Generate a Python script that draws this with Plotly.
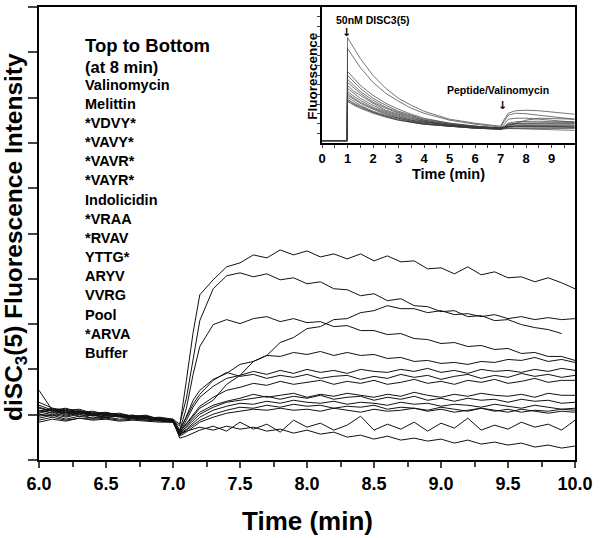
import plotly.graph_objects as go

# ---------------- main chart data (time in min, fluorescence in a.u.) ----------------
time_min = [6.0, 6.1, 6.2, 6.3, 6.4, 6.5, 6.6, 6.7, 6.8, 6.9, 7.0, 7.05, 7.1, 7.15,
            7.2, 7.3, 7.4, 7.5, 7.6, 7.7, 7.8, 7.9, 8.0, 8.1, 8.2, 8.3, 8.4, 8.5,
            8.6, 8.7, 8.8, 8.9, 9.0, 9.1, 9.2, 9.3, 9.4, 9.5, 9.6, 9.7, 9.8, 9.9, 10.0]

valinomycin = [52, 49, 50, 47, 48, 45, 46, 44, 43, 42, 40, 34, 80, 128, 166, 181, 194, 198, 206, 203, 211, 206, 210, 204, 207, 202, 207, 200, 205, 199, 200, 192, 193, 187, 194, 186, 189, 183, 184, 179, 183, 178, 172]
melittin = [48, 51, 46, 49, 45, 47, 44, 45, 42, 43, 41, 36, 62, 102, 140, 172, 185, 188, 184, 187, 181, 183, 177, 179, 172, 171, 165, 167, 160, 162, 155, 154, 149, 150, 144, 145, 140, 141, 136, 133, 131, 127, None]
vdvy = [55, 50, 52, 48, 49, 46, 47, 44, 45, 41, 40, 30, 52, 86, 114, 136, 141, 137, 142, 144, 139, 142, 138, 139, 134, 135, 130, 130, 126, 127, 122, 121, 117, 118, 114, 115, 111, 112, 107, 108, 104, 104, 100]
vavy = [47, 50, 45, 48, 44, 46, 45, 43, 44, 40, 39, 28, 36, 44, 52, 60, 76, 85, 99, 105, 118, 123, 132, 134, 141, 142, 148, 150, 155, 152, 152, 148, 150, 146, 147, 144, 146, 142, 144, 141, 143, 141, 142]
vavr = [50, 47, 49, 46, 47, 44, 45, 43, 42, 42, 40, 29, 44, 60, 70, 81, 87, 96, 99, 105, 104, 108, 106, 109, 105, 108, 105, 106, 102, 103, 99, 100, 97, 98, 96, 99, 98, 101, 100, 103, 99, 101, 98]
vayr = [45, 48, 44, 47, 45, 43, 44, 42, 43, 41, 40, 27, 40, 53, 63, 74, 82, 85, 89, 86, 90, 87, 91, 88, 90, 87, 91, 89, 88, 91, 89, 92, 88, 90, 87, 91, 89, 90, 88, 91, 89, 92, 90]
indolicidin = [58, 52, 50, 51, 47, 48, 45, 44, 44, 41, 41, 30, 43, 56, 66, 80, 88, 84, 86, 82, 85, 83, 86, 82, 84, 85, 81, 84, 82, 86, 83, 85, 81, 84, 86, 82, 85, 83, 87, 84, 86, 83, 85]
vraa = [44, 46, 43, 46, 42, 45, 43, 42, 41, 40, 39, 28, 37, 46, 54, 63, 70, 73, 77, 75, 79, 76, 78, 80, 76, 79, 77, 80, 76, 78, 81, 77, 79, 76, 80, 78, 81, 77, 79, 82, 78, 80, 80]
rvav = [53, 49, 51, 48, 46, 47, 44, 45, 43, 42, 40, 26, 34, 42, 48, 55, 59, 62, 66, 63, 65, 67, 63, 66, 64, 67, 65, 63, 66, 64, 68, 65, 63, 66, 64, 67, 65, 64, 66, 63, 67, 65, 65]
yttg = [49, 52, 47, 50, 46, 47, 45, 43, 44, 41, 40, 27, 33, 40, 46, 53, 58, 60, 62, 64, 61, 64, 62, 65, 61, 63, 64, 60, 63, 61, 64, 60, 62, 59, 62, 60, 61, 58, 61, 59, 60, 57, 58]
aryv = [46, 44, 48, 44, 45, 43, 44, 42, 42, 40, 39, 26, 31, 37, 43, 50, 54, 57, 56, 59, 57, 60, 58, 57, 59, 56, 58, 57, 55, 58, 56, 57, 54, 56, 55, 53, 56, 54, 52, 55, 53, 51, 52]
vvrg = [42, 45, 41, 44, 42, 43, 41, 42, 40, 40, 38, 25, 30, 35, 40, 46, 50, 53, 52, 55, 53, 56, 54, 55, 52, 54, 53, 55, 51, 53, 52, 50, 53, 51, 49, 52, 50, 48, 51, 49, 47, 49, 48]
pool = [40, 43, 40, 42, 41, 42, 40, 41, 40, 39, 38, 24, 28, 33, 38, 43, 47, 49, 51, 50, 52, 50, 51, 49, 52, 50, 48, 51, 49, 50, 52, 49, 51, 48, 50, 52, 49, 51, 48, 50, 49, 51, 50]
arva = [70, 50, 48, 49, 45, 46, 44, 43, 42, 41, 39, 22, 24, 27, 30, 34, 29, 38, 31, 36, 28, 40, 33, 37, 30, 35, 44, 30, 36, 31, 38, 29, 37, 32, 42, 30, 35, 31, 38, 33, 36, 30, 40]
buffer = [38, 41, 39, 42, 40, 41, 39, 40, 39, 38, 38, 26, 29, 31, 33, 30, 34, 31, 33, 29, 31, 27, 30, 26, 28, 23, 25, 21, 24, 20, 22, 19, 21, 17, 20, 16, 18, 15, 17, 13, 15, 12, 14]

legend_labels = ["Valinomycin", "Melittin", "*VDVY*", "*VAVY*", "*VAVR*", "*VAYR*",
                 "Indolicidin", "*VRAA", "*RVAV", "YTTG*", "ARYV", "VVRG", "Pool",
                 "*ARVA", "Buffer"]
main_series = [valinomycin, melittin, vdvy, vavy, vavr, vayr, indolicidin, vraa,
               rvav, yttg, aryv, vvrg, pool, arva, buffer]

x_ticks = [6.0, 6.5, 7.0, 7.5, 8.0, 8.5, 9.0, 9.5, 10.0]
x_tick_labels = ["6.0", "6.5", "7.0", "7.5", "8.0", "8.5", "9.0", "9.5", "10.0"]

# ---------------- inset data (full run, 0-10 min) ----------------
inset_time = [0, 0.99, 1.0, 1.25, 1.5, 2, 2.5, 3, 3.5, 4, 5, 6, 7,
              7.15, 7.3, 7.6, 8, 8.5, 9, 9.5, 9.9]
inset_series = [
    [2.5, 2.5, 106, 95, 85, 68, 55, 45, 38, 32, 24, 20, 17, 24, 30, 32.5, 33, 32.5, 31, 30, 29],
    [2.5, 2.5, 95, 85, 76, 61, 50, 42, 35, 30, 23, 19, 16, 22, 28, 30, 29.5, 28, 26.5, 25, 24],
    [2.5, 2.5, 72, 65, 58, 48, 40, 34, 29, 25, 20, 17, 15, 19, 24, 25, 25, 24, 23, 22, 21],
    [2.5, 2.5, 68, 61, 55, 45, 38, 32, 28, 24, 20, 17, 15, 16, 17, 20, 23, 25, 24.5, 24, 24],
    [2.5, 2.5, 64, 58, 52, 43, 36, 31, 27, 23, 19, 17, 15, 17, 20, 21.5, 22, 22, 21.5, 21.5, 21.5],
    [2.5, 2.5, 61, 55, 50, 41, 35, 30, 26, 23, 19, 16, 15, 16, 19, 20, 20.5, 20.5, 20.5, 20.5, 20.5],
    [2.5, 2.5, 58, 52, 48, 40, 33, 29, 25, 22, 18, 16, 15, 16, 19, 19.5, 19.5, 19.5, 19.5, 19.5, 19.5],
    [2.5, 2.5, 55, 50, 45, 38, 32, 28, 24, 22, 18, 16, 15, 16, 18, 19, 19, 19, 19, 19, 19],
    [2.5, 2.5, 52, 47, 43, 36, 31, 27, 23, 21, 18, 16, 15, 15.5, 17, 17.5, 17.5, 17.5, 17.5, 17.5, 17.5],
    [2.5, 2.5, 50, 45, 41, 35, 30, 26, 23, 21, 18, 16, 14, 15.5, 16.5, 17.5, 17.5, 17.5, 17, 17, 17],
    [2.5, 2.5, 48, 44, 40, 34, 29, 25, 22, 20, 17, 16, 14, 15.5, 16.5, 17, 17, 17, 16.5, 16.5, 16],
    [2.5, 2.5, 46, 42, 38, 32, 28, 25, 22, 20, 17, 15, 14, 15.3, 16, 16.5, 16.5, 16.5, 16, 16, 15.8],
    [2.5, 2.5, 44, 40, 37, 31, 27, 24, 21, 19, 17, 15, 14, 15.2, 16, 16.2, 16.3, 16.3, 16.2, 16.2, 16],
    [2.5, 2.5, 43, 39, 36, 31, 27, 23, 21, 19, 17, 15, 14, 14.5, 14.8, 14.8, 14.8, 14.7, 14.7, 14.6, 14.6],
    [2.5, 2.5, 42, 38, 35, 30, 26, 23, 21, 19, 17, 15, 14, 14.5, 14.6, 14.5, 14.2, 13.8, 13.6, 13.2, 12.8],
]
inset_ticks = [0, 1, 2, 3, 4, 5, 6, 7, 8, 9]

for s in main_series:
    assert len(s) == len(time_min)
for s in inset_series:
    assert len(s) == len(inset_time)

FONT = "Liberation Sans, Arial, Helvetica, sans-serif"

fig = go.Figure()
for name, ys in zip(legend_labels, main_series):
    fig.add_trace(go.Scatter(x=time_min, y=ys, mode="lines", name=name,
                             line=dict(color="#111111", width=1), showlegend=False))
for ys in inset_series:
    fig.add_trace(go.Scatter(x=inset_time, y=ys, mode="lines", xaxis="x2", yaxis="y2",
                             line=dict(color="#3a3a3a", width=0.7), showlegend=False))

# geometry helpers (paper coords of plot area: x 39..575 px, y 5..460 px)
PL, PR, PT, PB = 39, 575, 5, 460
def px(xp):
    return (xp - PL) / (PR - PL)
def py(yp):
    return (PB - yp) / (PB - PT)

ymax = 455
fig.update_layout(
    width=600, height=538,
    margin=dict(l=PL, r=600 - PR, t=PT, b=538 - PB),
    paper_bgcolor="white", plot_bgcolor="white",
    font=dict(family=FONT, color="black"),
    xaxis=dict(range=[6, 10], tickvals=x_ticks,
               ticktext=["<b>%s</b>" % t for t in x_tick_labels],
               tickfont=dict(size=18), ticks="outside", ticklen=6, tickwidth=1.5,
               minor=dict(dtick=0.25, ticks="outside", ticklen=5, tickwidth=1.5),
               showline=True, linewidth=2, linecolor="black", mirror=True,
               showgrid=False, zeroline=False),
    yaxis=dict(range=[0, ymax], tickvals=[45.5 * k for k in range(11)],
               showticklabels=False, ticks="outside", ticklen=9, tickwidth=1.5,
               showline=True, linewidth=2, linecolor="black", mirror=True,
               showgrid=False, zeroline=False),
    xaxis2=dict(domain=[px(322), 1.0], anchor="y2", range=[0, 9.92],
                tickvals=inset_ticks, ticktext=["<b>%d</b>" % t for t in inset_ticks],
                tickfont=dict(size=13), ticks="outside", ticklen=3, tickwidth=1,
                minor=dict(dtick=0.5, ticks="outside", ticklen=3, tickwidth=1),
                showline=True, linewidth=1.5, linecolor="black",
                showgrid=False, zeroline=False),
    yaxis2=dict(domain=[py(141.7), 1.0], anchor="x2", range=[0, 136.7],
                tickvals=[9.75 * k for k in range(1, 14)], showticklabels=False,
                ticks="outside", ticklen=3, tickwidth=1,
                showline=True, linewidth=1.5, linecolor="black",
                showgrid=False, zeroline=False),
)

ann = []
# axis titles
ann.append(dict(text="<b>diSC<sub>3</sub>(5) Fluorescence Intensity</b>", textangle=-90,
                xref="paper", yref="paper", x=px(16), y=py(236), xanchor="center",
                yanchor="middle", showarrow=False, font=dict(size=24.5)))
ann.append(dict(text="<b>Time (min)</b>", xref="paper", yref="paper", x=0.5, y=py(521),
                xanchor="center", yanchor="middle", showarrow=False, font=dict(size=26)))
# legend-like text block
ann.append(dict(text="<b>Top to Bottom</b>", xref="paper", yref="paper", x=px(83), y=py(44),
                xanchor="left", yanchor="middle", showarrow=False, font=dict(size=18.5)))
ann.append(dict(text="<b>(at 8 min)</b>", xref="paper", yref="paper", x=px(83), y=py(65),
                xanchor="left", yanchor="middle", showarrow=False, font=dict(size=16.5)))
for i, lab in enumerate(legend_labels):
    ann.append(dict(text="<b>%s</b>" % lab, xref="paper", yref="paper", x=px(83),
                    y=py(83 + 19.25 * i), xanchor="left", yanchor="middle",
                    showarrow=False, font=dict(size=14.5)))
# inset texts
ann.append(dict(text="<b>Fluorescence</b>", textangle=-90, xref="paper", yref="paper",
                x=px(313), y=py(74), xanchor="center", yanchor="middle", showarrow=False,
                font=dict(size=13.5)))
ann.append(dict(text="<b>Time (min)</b>", xref="paper", yref="paper", x=px(448), y=py(173),
                xanchor="center", yanchor="middle", showarrow=False, font=dict(size=14.5)))
ann.append(dict(text="<b>50nM DISC3(5)</b>", xref="paper", yref="paper", x=px(373), y=py(18),
                xanchor="center", yanchor="middle", showarrow=False, font=dict(size=10.5)))
ann.append(dict(text="<b>Peptide/Valinomycin</b>", xref="paper", yref="paper", x=px(498),
                y=py(88), xanchor="center", yanchor="middle", showarrow=False,
                font=dict(size=10.5)))
# arrows in inset (as arrow glyphs)
ARROW_FONT = dict(family="DejaVu Sans", size=11, color="black")
ann.append(dict(text="<b>↓</b>", xref="paper", yref="paper", x=px(346), y=py(31),
                xanchor="center", yanchor="middle", showarrow=False, font=ARROW_FONT))
ann.append(dict(text="<b>↓</b>", xref="paper", yref="paper", x=px(502), y=py(104),
                xanchor="center", yanchor="middle", showarrow=False, font=ARROW_FONT))
fig.update_layout(annotations=ann)

fig.write_html("out.html", config={"displayModeBar": False},
               post_script="document.body.style.margin='0px';")
